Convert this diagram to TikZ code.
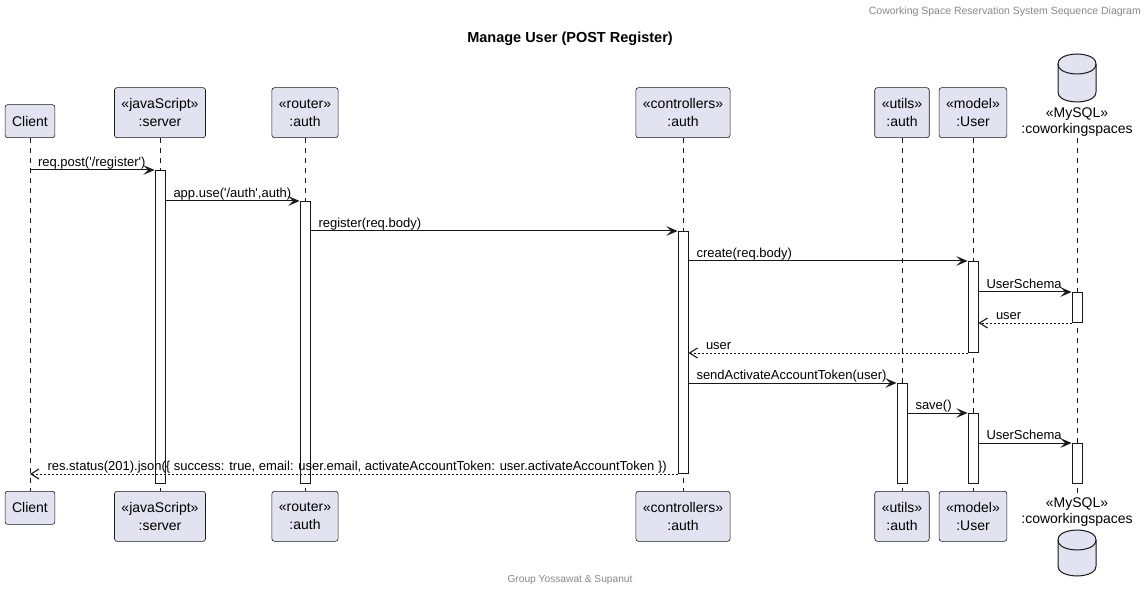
\documentclass[tikz,border=0pt]{standalone}
\usepackage{fontspec}
\setmainfont{Liberation Sans}
\usetikzlibrary{arrows.meta}
\definecolor{pbox}{HTML}{E2E2F0}
\definecolor{pline}{HTML}{181818}
\definecolor{hdrgray}{HTML}{888888}
\newcommand{\sq}{\textquotesingle}
\begin{document}
\begin{tikzpicture}[x=1pt,y=-1pt,
  part/.style={draw=pline, fill=pbox, rounded corners=2.5pt, line width=0.6pt,
    font=\fontsize{14}{18}\selectfont, align=center, inner xsep=7pt, inner ysep=0pt},
  one/.style={minimum height=33pt},
  two/.style={minimum height=50pt},
  dblbl/.style={font=\fontsize{14}{16}\selectfont, align=center, inner sep=1pt},
  life/.style={draw=pline, line width=0.5pt, dash pattern=on 5pt off 5pt},
  act/.style={draw=pline, fill=white, line width=1pt, minimum width=10pt, inner sep=0pt, anchor=north},
  msg/.style={draw=pline, line width=1pt, -{Stealth[length=11pt,width=9.5pt,inset=4.5pt]}},
  ret/.style={draw=pline, line width=1pt, dash pattern=on 2pt off 2pt,
    -{Straight Barb[length=8pt,width=10pt,line width=1.1pt]}},
  lbl/.style={font=\fontsize{13}{15}\selectfont, inner sep=0pt, anchor=base west, yshift=3.5pt},
  rl/.style={lbl, pos=0, xshift=7.5pt},
  ll/.style={lbl, pos=1, xshift=17pt},
  dbshape/.style={draw=pline, fill=pbox, line width=1pt},
  dbline/.style={draw=pline, line width=1pt}
]
\useasboundingbox[fill=white] (0,0) rectangle (1147,593);

% header, title, footer
\node[font=\fontsize{10.5}{12}\selectfont, text=hdrgray, anchor=east, inner sep=0pt] (hdr) at (1141,12) {Coworking Space Reservation System Sequence Diagram};
\node[font=\bfseries\fontsize{14.5}{16}\selectfont, inner sep=0pt] (ttl) at (570,39) {Manage User (POST Register)};
\node[font=\fontsize{10.2}{12}\selectfont, text=hdrgray, inner sep=0pt] (ftr) at (570,580) {Group Yossawat \& Supanut};

% participants top
\node[part, one, anchor=south] (cliT) at (30,138) {Client};
\node[part, two, anchor=south] (srvT) at (160,138) {«javaScript»\\:server};
\node[part, two, anchor=south] (rtrT) at (305,138) {«router»\\:auth};
\node[part, two, anchor=south] (ctlT) at (683,138) {«controllers»\\:auth};
\node[part, two, anchor=south] (utT) at (902,138) {«utils»\\:auth};
\node[part, two, anchor=south] (modT) at (973,138) {«model»\\:User};
\node[dblbl, anchor=south] (dbT) at (1077,138) {«MySQL»\\:coworkingspaces};

% participants bottom
\node[part, one, anchor=north] (cliB) at (30,491) {Client};
\node[part, two, anchor=north] (srvB) at (160,491) {«javaScript»\\:server};
\node[part, two, anchor=north] (rtrB) at (305,491) {«router»\\:auth};
\node[part, two, anchor=north] (ctlB) at (683,491) {«controllers»\\:auth};
\node[part, two, anchor=north] (utB) at (902,491) {«utils»\\:auth};
\node[part, two, anchor=north] (modB) at (973,491) {«model»\\:User};
\node[dblbl, anchor=north] (dbB) at (1077,497) {«MySQL»\\:coworkingspaces};

% database cylinders
\path[dbshape] (1058,64) .. controls (1058,54) and (1077,54) .. (1077,54) .. controls (1077,54) and (1096,54) .. (1096,64) -- (1096,92) .. controls (1096,102) and (1077,102) .. (1077,102) .. controls (1077,102) and (1058,102) .. (1058,92) -- cycle;
\path[dbline] (1058,64) .. controls (1058,74) and (1077,74) .. (1077,74) .. controls (1077,74) and (1096,74) .. (1096,64);
\path[dbshape] (1058,540) .. controls (1058,530) and (1077,530) .. (1077,530) .. controls (1077,530) and (1096,530) .. (1096,540) -- (1096,566) .. controls (1096,576) and (1077,576) .. (1077,576) .. controls (1077,576) and (1058,576) .. (1058,566) -- cycle;
\path[dbline] (1058,540) .. controls (1058,550) and (1077,550) .. (1077,550) .. controls (1077,550) and (1096,550) .. (1096,540);

% lifelines
\draw[life] (cliT.south) -- (cliB.north);
\draw[life] (srvT.south) -- (srvB.north);
\draw[life] (rtrT.south) -- (rtrB.north);
\draw[life] (ctlT.south) -- (ctlB.north);
\draw[life] (utT.south) -- (utB.north);
\draw[life] (modT.south) -- (modB.north);
\draw[life] (dbT.south) -- (dbB.north);

% activations
\node[act, minimum height=313pt] (aSrv) at (160,170) {};
\node[act, minimum height=282pt] (aRtr) at (305,201) {};
\node[act, minimum height=242pt] (aCtl) at (683,231) {};
\node[act, minimum height=91pt] (aMod1) at (973,261) {};
\node[act, minimum height=30pt] (aDb1) at (1077,292) {};
\node[act, minimum height=100pt] (aUt) at (902,383) {};
\node[act, minimum height=70pt] (aMod2) at (973,413) {};
\node[act, minimum height=40pt] (aDb2) at (1077,443) {};

% messages
\draw[msg] (cliT.south |- aSrv.north west) -- (aSrv.north west) node[rl] {req.post(\sq/register\sq)};
\draw[msg] (aSrv.east |- aRtr.north west) -- (aRtr.north west) node[rl] {app.use(\sq/auth\sq,auth)};
\draw[msg] (aRtr.east |- aCtl.north west) -- (aCtl.north west) node[rl] {register(req.body)};
\draw[msg] (aCtl.east |- aMod1.north west) -- (aMod1.north west) node[rl] {create(req.body)};
\draw[msg] (aMod1.east |- aDb1.north west) -- (aDb1.north west) node[rl] {UserSchema};
\draw[ret] (aDb1.south west) -- (aMod1.east |- aDb1.south west) node[ll] {user};
\draw[ret] (aMod1.south west) -- (aCtl.east |- aMod1.south west) node[ll] {user};
\draw[msg] (aCtl.east |- aUt.north west) -- (aUt.north west) node[rl] {sendActivateAccountToken(user)};
\draw[msg] (aUt.east |- aMod2.north west) -- (aMod2.north west) node[rl] {save()};
\draw[msg] (aMod2.east |- aDb2.north west) -- (aDb2.north west) node[rl] {UserSchema};
\draw[ret] (aCtl.south west) -- (cliT.south |- aCtl.south west) node[ll] {res.status(201).json(\{ success: true, email: user.email, activateAccountToken: user.activateAccountToken \})};
\end{tikzpicture}
\end{document}
